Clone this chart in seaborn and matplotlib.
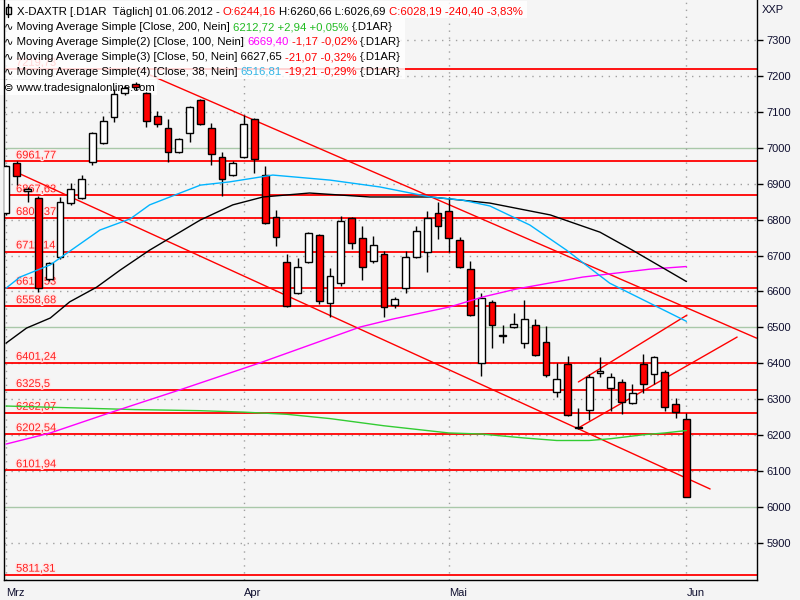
import matplotlib
matplotlib.use("Agg")
import matplotlib.pyplot as plt
import matplotlib.patheffects as pe
import numpy as np
import pandas as pd
import seaborn as sns

# X-DAXTR daily candles, 01.03.2012 - 01.06.2012
opens = [6818, 6958, 6881, 6860, 6635, 6696, 6846, 6860, 6960, 7013,
         7086, 7152, 7177, 7152, 7088, 7055, 6988, 7041, 7133, 7055,
         6974, 6924, 6974, 7080, 6924, 6807, 6682, 6596, 6682, 6757,
         6568, 6624, 6804, 6749, 6685, 6704, 6562, 6610, 6696, 6710,
         6818, 6824, 6743, 6662, 6401, 6571, 6478, 6501, 6456, 6507,
         6459, 6320, 6398, 6223, 6270, 6373, 6331, 6348, 6289, 6398,
         6370, 6376, 6287, 6244.16]
highs = [6952, 6962, 6891, 6866, 6682, 6863, 6902, 6924, 7044, 7088,
         7164, 7175, 7183, 7155, 7102, 7080, 7026, 7115, 7136, 7069,
         6988, 6963, 7091, 7083, 6949, 6827, 6704, 6693, 6766, 6760,
         6665, 6810, 6807, 6782, 6754, 6713, 6585, 6713, 6782, 6824,
         6849, 6863, 6752, 6685, 6596, 6576, 6507, 6540, 6576, 6523,
         6504, 6401, 6420, 6275, 6370, 6417, 6373, 6356, 6342, 6426,
         6420, 6381, 6303, 6260.66]
lows = [6813, 6896, 6849, 6598, 6629, 6690, 6841, 6857, 6952, 7011,
        7072, 7147, 7160, 7058, 7058, 6960, 6985, 7016, 7064, 6952,
        6866, 6921, 6971, 6930, 6788, 6726, 6556, 6593, 6680, 6565,
        6529, 6615, 6718, 6632, 6679, 6529, 6554, 6596, 6693, 6654,
        6746, 6710, 6665, 6531, 6365, 6442, 6456, 6498, 6442, 6420,
        6362, 6306, 6254, 6217, 6242, 6362, 6267, 6259, 6286, 6317,
        6342, 6267, 6248, 6026.69]
closes = [6949, 6921, 6884, 6610, 6679, 6849, 6885, 6913, 7041, 7074,
          7150, 7166, 7169, 7075, 7066, 6988, 7024, 7113, 7066, 6983,
          6913, 6958, 7066, 6969, 6791, 6752, 6559, 6668, 6763, 6573,
          6643, 6796, 6735, 6668, 6729, 6557, 6579, 6696, 6768, 6804,
          6782, 6749, 6668, 6534, 6582, 6507, 6476, 6510, 6523, 6423,
          6367, 6356, 6256, 6221, 6362, 6379, 6362, 6292, 6317, 6342,
          6417, 6278, 6264, 6028.19]

month_idx = [0, 22, 41, 63]
month_labels = ["Mrz", "Apr", "Mai", "Jun"]

# moving averages (bar index, value)
ma200_x = [0, 6, 12, 18, 22, 26, 30, 35, 41, 44, 48, 51, 54, 56, 59, 61, 63]
ma200_y = [6281, 6276, 6271, 6268, 6264, 6258, 6246, 6226, 6206, 6203, 6192,
           6185, 6185, 6190, 6201, 6206, 6212.72]
ma100_x = [0, 4.1, 9.6, 16.1, 23.5, 32.8, 35.8, 41.1, 44.2, 47.3, 53.4, 59.6, 63]
ma100_y = [6175, 6206, 6262, 6326, 6401, 6501, 6523, 6557, 6585, 6607, 6640,
           6662, 6669.40]
ma50_x = [0, 1.9, 4.1, 5.9, 8.4, 10.6, 13.3, 18, 21, 23.8, 28.1, 33.7, 39.3,
          44.8, 50.4, 55, 58, 63]
ma50_y = [6456, 6498, 6526, 6571, 6612, 6660, 6715, 6799, 6841, 6863, 6874,
          6863, 6863, 6846, 6813, 6765, 6715, 6627.65]
ma38_x = [0, 1.3, 4.1, 8.7, 11.5, 13.3, 18, 20.7, 24.7, 30, 34.6, 39.3, 42.3,
          44.8, 48.5, 51.9, 55.9, 63]
ma38_y = [6609, 6640, 6674, 6771, 6802, 6841, 6896, 6905, 6924, 6910, 6891,
          6863, 6854, 6838, 6785, 6715, 6623, 6516.81]

# support / resistance levels
levels = [7219.73, 6961.77, 6867.63, 6804.37, 6711.14, 6610.53, 6558.68,
          6401.24, 6325.5, 6262.07, 6202.54, 6101.94, 5811.31]

# trend lines: start / end (bar index, value)
trend_x = [[13.3, 69.5], [1.1, 65.2], [53, 63.05], [53, 67.7]]
trend_y = [[7203, 6470], [6930, 6050], [6348, 6534], [6220, 6473]]

yticks = list(range(5900, 7301, 100))

sns.set_style("white")
plt.rcParams["font.family"] = ["Liberation Sans", "DejaVu Sans"]

W, H = 800, 600
fig = plt.figure(figsize=(8, 6), dpi=100, facecolor="#F4F4F4")
ax = fig.add_axes([4 / W, 20 / H, 753 / W, 580 / H], facecolor="#F5F5F5")
ax.set_xlim(-0.185, 69.54)
ax.set_ylim(5796.6, 7411.4)

# grid
for v in yticks:
    if v % 500 == 0:
        ax.axhline(v, color="#A9C8A9", lw=1, zorder=0.5)
    else:
        ax.axhline(v, color="#A0A0A0", lw=1, ls=(0, (1, 4)), zorder=0.5)
for m in month_idx:
    ax.axvline(m, color="#A0A0A0", lw=1, ls=(0, (1, 4)), zorder=0.5)

# levels
for lv in levels:
    ax.axhline(lv, color="#FF0000", lw=1.3, zorder=1)
    ax.text(0.93, lv + 3, f"{lv:g}".replace(".", ","), color="#FF2020", fontsize=8,
            va="bottom", ha="left", zorder=1.1,
            path_effects=[pe.withStroke(linewidth=2, foreground="#FFE8E8")])

# trend lines
for tx, ty in zip(trend_x, trend_y):
    ax.plot(tx, ty, color="#FF0000", lw=1, zorder=1.2)

# candles
df = pd.DataFrame({"o": opens, "h": highs, "l": lows, "c": closes})
df["i"] = np.arange(len(df))
body_lo = df[["o", "c"]].min(axis=1)
body_h = (df["c"] - df["o"]).abs().clip(lower=1.5)
cols = np.where(df["c"] >= df["o"], "white", "#FF0000")
ax.vlines(df["i"], df["l"], df["h"], color="black", lw=1, zorder=2.9)
ax.bar(df["i"], body_h, bottom=body_lo, width=0.62, color=cols,
       edgecolor="black", linewidth=1, zorder=3)

# moving averages
sns.lineplot(x=ma200_x, y=ma200_y, ax=ax, color="#33CC33", lw=1, zorder=3.5)
sns.lineplot(x=ma100_x, y=ma100_y, ax=ax, color="#FF00FF", lw=1, zorder=3.5)
sns.lineplot(x=ma50_x, y=ma50_y, ax=ax, color="black", lw=1, zorder=3.5)
sns.lineplot(x=ma38_x, y=ma38_y, ax=ax, color="#00B4FF", lw=1, zorder=3.5)

# axes
ax.yaxis.tick_right()
ax.set_yticks(yticks)
ax.set_yticklabels([str(v) for v in yticks])
ax.tick_params(axis="y", direction="out", length=4, width=1, pad=3,
               labelsize=8, labelcolor="#101030", color="black")
ax.set_xticks(month_idx)
ax.set_xticklabels(month_labels, ha="left")
ax.tick_params(axis="x", direction="out", length=4, width=1, pad=2,
               labelsize=8, labelcolor="#101030", color="black")
ax.set_xlabel("")
ax.set_ylabel("")
for s in ["left", "bottom", "right"]:
    ax.spines[s].set_color("black")
    ax.spines[s].set_linewidth(1)
ax.spines["top"].set_visible(False)
fig.text(762 / W, 1 - 10 / H, "XXP", fontsize=8, color="#101030", va="center")

# header legend, multi-coloured lines
renderer = fig.canvas.get_renderer()
FS = 8.2


def text_w(s):
    t = fig.text(0, 0, "|" + s + "|", fontsize=FS)
    w = t.get_window_extent(renderer).width
    t.remove()
    return w


bar_w = text_w("")


def rich(x0, y, parts):
    prefix = ""
    for s, c in parts:
        lead = len(s) - len(s.lstrip())
        x = x0 + text_w(prefix + s[:lead]) - bar_w
        ax.text(x / W, 1 - y / H, s.strip(), color=c, fontsize=FS, va="baseline",
                ha="left", transform=fig.transFigure, zorder=2.5, clip_on=False)
        prefix += s
    return x0 + text_w(prefix) - bar_w


def panel(x1, y0, y1):
    ax.add_patch(plt.Rectangle((0, 1 - y1 / H), x1 / W, (y1 - y0) / H,
                               transform=fig.transFigure, fc="white", ec="none",
                               alpha=0.82, zorder=2.4, clip_on=False))


RED, GRN, MAG, CYN = "#FF0000", "#22BB22", "#FF00FF", "#33B5E5"
e1 = rich(17, 15, [("X-DAXTR [.D1AR  Täglich] 01.06.2012 -", "black"), (" O:6244,16", RED),
                   (" H:6260,66 L:6026,69", "black"), (" C:6028,19 -240,40 -3,83%", RED)])
ends = [
    rich(4, 30, [("∿ Moving Average Simple [Close, 200, Nein]", "black"),
                 (" 6212,72 +2,94 +0,05%", GRN), (" {.D1AR}", "black")]),
    rich(4, 45, [("∿ Moving Average Simple(2) [Close, 100, Nein]", "black"),
                 (" 6669,40", MAG), (" -1,17 -0,02%", RED), (" {.D1AR}", "black")]),
    rich(4, 60, [("∿ Moving Average Simple(3) [Close, 50, Nein] 6627,65", "black"),
                 (" -21,07 -0,32%", RED), (" {.D1AR}", "black")]),
    rich(4, 75, [("∿ Moving Average Simple(4) [Close, 38, Nein]", "black"),
                 (" 6516,81", CYN), (" -19,21 -0,29%", RED), (" {.D1AR}", "black")]),
]
e6 = rich(4, 91, [("⊜ www.tradesignalonline.com", "black")])
panel(e1 + 4, 1, 18)
panel(max(ends) + 4, 18, 79)
panel(e6 + 2, 80, 95)

# small candle icon in front of the title
fig.add_artist(plt.Line2D([8 / W, 8 / W], [1 - 4 / H, 1 - 17 / H], color="black", lw=1))
fig.add_artist(plt.Rectangle((5.5 / W, 1 - 14 / H), 5 / W, 7 / H, fc="white", ec="black", lw=1))

fig.savefig("out.png", dpi=100, facecolor=fig.get_facecolor())
